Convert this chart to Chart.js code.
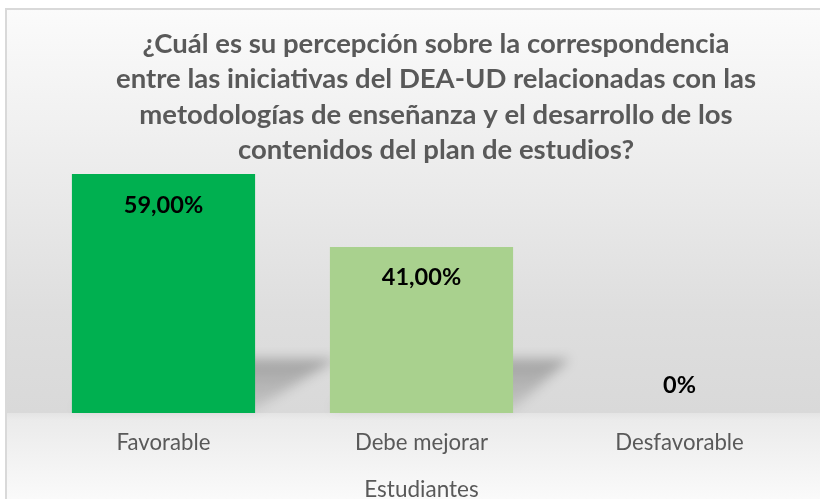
<!DOCTYPE html>
<html>
<head>
<meta charset="utf-8">
<script src="https://cdn.jsdelivr.net/npm/chart.js@4.4.1/dist/chart.umd.min.js"></script>
<style>
  html, body { margin: 0; padding: 0; background: #ffffff; overflow: hidden; }
  #wrap { position: relative; width: 820px; height: 506px; }
</style>
</head>
<body>
<div id="wrap"><canvas id="c" width="820" height="506"></canvas></div>
<script>
const titleLines = [
  '¿Cuál es su percepción sobre la correspondencia',
  'entre las iniciativas del DEA-UD relacionadas con las',
  'metodologías de enseñanza y el desarrollo de los',
  'contenidos del plan de estudios?'
];
const categories = ['Favorable', 'Debe mejorar', 'Desfavorable'];
const values = [59, 41, 0];
const valueLabels = ['59,00%', '41,00%', '0%'];
const barColors = ['#00B050', '#A9D18E', '#A9D18E'];
const axisTitle = 'Estudiantes';

const bgPlugin = {
  id: 'bg',
  afterLayout(chart) {
    const t = chart.titleBlock;
    if (t) { t.left += 14.5; t.right += 14.5; }
  },
  beforeDraw(chart) {
    const ctx = chart.ctx;
    const W = chart.width, H = chart.height;
    const base = chart.chartArea.bottom;
    ctx.save();
    ctx.fillStyle = '#ffffff';
    ctx.fillRect(0, 0, W, H);
    const g = ctx.createLinearGradient(0, 9, 0, base);
    g.addColorStop(0, '#fbfbfb');
    g.addColorStop(0.35, '#eeeeee');
    g.addColorStop(0.75, '#dedede');
    g.addColorStop(1, '#d9d9d9');
    ctx.fillStyle = g;
    ctx.fillRect(6, 9, W - 6, base - 9);
    const g2 = ctx.createLinearGradient(0, base, 0, 499);
    g2.addColorStop(0, '#e4e4e4');
    g2.addColorStop(0.08, '#ebebeb');
    g2.addColorStop(1, '#fafafa');
    ctx.fillStyle = g2;
    ctx.fillRect(6, base, W - 6, H - base);
    ctx.strokeStyle = '#d9d9d9';
    ctx.lineWidth = 2;
    ctx.beginPath();
    ctx.moveTo(6, H + 5);
    ctx.lineTo(6, 9);
    ctx.lineTo(W + 5, 9);
    ctx.stroke();
    ctx.restore();
  },
  beforeDatasetsDraw(chart) {
    const ctx = chart.ctx;
    const meta = chart.getDatasetMeta(0);
    ctx.save();
    ctx.filter = 'blur(6px)';
    meta.data.forEach((bar) => {
      const h = bar.base - bar.y;
      if (h <= 0) return;
      const half = bar.width / 2;
      const l = bar.x - half, r = bar.x + half, b = bar.base;
      const dx = h * 0.34, dy = 54;
      const sg = ctx.createLinearGradient(0, b, 0, b - dy);
      sg.addColorStop(0, 'rgba(0,0,0,0.08)');
      sg.addColorStop(1, 'rgba(0,0,0,0.26)');
      ctx.fillStyle = sg;
      ctx.beginPath();
      ctx.moveTo(l, b - 4);
      ctx.lineTo(r, b - 4);
      ctx.lineTo(r + dx, b - dy);
      ctx.lineTo(l + dx, b - dy);
      ctx.closePath();
      ctx.fill();
    });
    ctx.restore();
  },
  afterDatasetsDraw(chart) {
    const ctx = chart.ctx;
    const meta = chart.getDatasetMeta(0);
    ctx.save();
    ctx.fillStyle = '#000000';
    ctx.font = 'bold 23.5px Lato';
    ctx.textAlign = 'center';
    ctx.textBaseline = 'middle';
    meta.data.forEach((bar, i) => {
      const y = values[i] > 0 ? bar.y + 31 : bar.base - 28;
      ctx.fillText(valueLabels[i], bar.x, y);
    });
    ctx.restore();
  }
};

new Chart(document.getElementById('c'), {
  type: 'bar',
  data: {
    labels: categories,
    datasets: [{
      data: values,
      backgroundColor: barColors,
      borderWidth: 0,
      barPercentage: 0.71,
      categoryPercentage: 1.0
    }]
  },
  options: {
    responsive: false,
    animation: false,
    devicePixelRatio: 1,
    layout: { padding: { left: 34.5, right: 11.5, top: 0, bottom: 0 } },
    plugins: {
      legend: { display: false },
      tooltip: { enabled: false },
      title: {
        display: true,
        text: titleLines,
        color: '#595959',
        font: { family: 'Lato', size: 27.5, weight: 'bold', lineHeight: 1.29 },
        padding: { top: 26.25, bottom: 1.75 }
      }
    },
    scales: {
      y: { display: false, min: 0, max: 60 },
      x: {
        grid: { display: false, drawTicks: false },
        border: { display: false },
        ticks: { color: '#595959', font: { family: 'Lato', size: 22.2 }, padding: 16.7 },
        title: {
          display: true,
          text: axisTitle,
          color: '#595959',
          font: { family: 'Lato', size: 22.5 },
          padding: { top: 0, bottom: 2.5 }
        },
        afterFit(scale) { scale.height = 506 - 413; }
      }
    }
  },
  plugins: [bgPlugin]
});
</script>
</body>
</html>
